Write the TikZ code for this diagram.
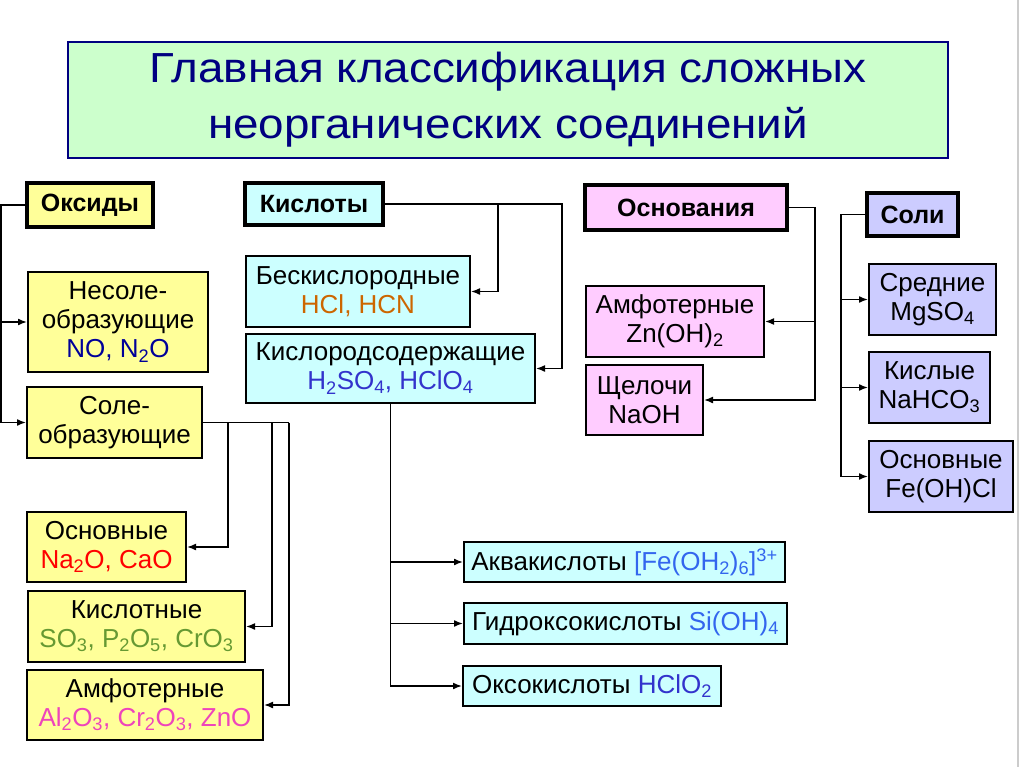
\documentclass[tikz,border=0pt]{standalone}
\usepackage{fontspec}
\setmainfont{Liberation Sans}
\newfontfamily\titlefont[FakeStretch=1.09]{Liberation Sans}
\usepackage{xcolor}
\usetikzlibrary{arrows.meta,positioning}
\definecolor{oxfill}{HTML}{FFFF99}
\definecolor{acfill}{HTML}{CCFFFF}
\definecolor{bafill}{HTML}{FFCCFF}
\definecolor{safill}{HTML}{CCCCFF}
\definecolor{tifill}{HTML}{CCFFCC}
\definecolor{tinavy}{HTML}{000080}
\definecolor{nocol}{HTML}{000099}
\definecolor{redcol}{HTML}{FF0000}
\definecolor{grncol}{HTML}{669933}
\definecolor{amfcol}{HTML}{EE44BB}
\definecolor{hclcol}{HTML}{CC6600}
\definecolor{sulcol}{HTML}{3333CC}
\definecolor{aqcol}{HTML}{3366EE}

\begin{document}
\begin{tikzpicture}[x=1pt, y=-1pt,
    box/.style={draw, align=center, inner sep=2pt, line width=2pt, font=\fontsize{26}{29}\selectfont},
    head/.style={box, line width=3.5pt, font=\fontsize{25}{30}\selectfont\bfseries},
    oxbox/.style={box, fill=oxfill}, acbox/.style={box, fill=acfill},
    babox/.style={box, fill=bafill}, sabox/.style={box, fill=safill},
    conn/.style={line width=1.6pt, -{Latex[length=9pt,width=7pt]}},
    link/.style={line width=1.6pt}
]
    \fill[white] (0,0) rectangle (1024,767); \useasboundingbox (0,0) rectangle (1024,767);
    \draw[black!20, line width=1.5pt] (1018,0) -- (1018,767);
    \node[draw=tinavy, line width=2pt, fill=tifill, text=tinavy, align=center, minimum width=880pt, minimum height=116pt,
        font=\titlefont\fontsize{42}{56}\selectfont] (title) at (508,100) {Главная классификация сложных\\неорганических соединений};

    \node[head, fill=oxfill, minimum width=126pt, minimum height=44pt] (oksidy) at (90,205) {Оксиды};
    \node[oxbox, minimum width=180pt, minimum height=100pt] (nesole) at (118,322) {Несоле-\\образующие\\\textcolor{nocol}{NO, N\textsubscript{2}O}};
    \node[oxbox, minimum width=175pt, minimum height=71pt] (sole) at (114.5,422.5) {Соле-\\образующие};
    \node[oxbox, minimum width=159pt, minimum height=70pt] (osnox) at (106.5,547) {Основные\\\textcolor{redcol}{Na\textsubscript{2}O, CaO}};
    \node[oxbox, minimum width=217pt, minimum height=71pt] (kislox) at (136.5,626.5) {Кислотные\\\textcolor{grncol}{SO\textsubscript{3}, P\textsubscript{2}O\textsubscript{5}, CrO\textsubscript{3}}};
    \node[oxbox, minimum width=236pt, minimum height=70pt] (amfox) at (145,705) {Амфотерные\\\textcolor{amfcol}{Al\textsubscript{2}O\textsubscript{3}, Cr\textsubscript{2}O\textsubscript{3}, ZnO}};

    \node[head, fill=acfill, minimum width=138pt, minimum height=42pt] (kisloty) at (314,204) {Кислоты};
    \node[acbox, minimum width=224pt, minimum height=71pt] (beskisl) at (358,291.5) {Бескислородные\\\textcolor{hclcol}{HCl, HCN}};
    \node[acbox, minimum width=289pt, minimum height=69pt] (kislsod) at (390.5,368.5) {Кислородсодержащие\\\textcolor{sulcol}{H\textsubscript{2}SO\textsubscript{4}, HClO\textsubscript{4}}};
    \node[acbox, minimum width=321pt, minimum height=40pt] (akva) at (624.5,562) {Аквакислоты \textcolor{aqcol}{[Fe(OH\textsubscript{2})\textsubscript{6}]\textsuperscript{3+}}};
    \node[acbox, minimum width=323pt, minimum height=41pt] (gidrokso) at (625.5,623.5) {Гидроксокислоты \textcolor{aqcol}{Si(OH)\textsubscript{4}}};
    \node[acbox, minimum width=258pt, minimum height=40pt] (okso) at (592,686) {Оксокислоты \textcolor{sulcol}{HClO\textsubscript{2}}};

    \node[head, fill=bafill, minimum width=202pt, minimum height=45pt] (osnovaniya) at (686,207.5) {Основания};
    \node[babox, minimum width=178pt, minimum height=71pt] (amfba) at (675,321.5) {Амфотерные\\Zn(OH)\textsubscript{2}};
    \node[babox, minimum width=117pt, minimum height=70pt] (shcheloch) at (644.5,400) {Щелочи\\NaOH};

    \node[head, fill=safill, minimum width=91pt, minimum height=43pt] (soli) at (912.5,214.5) {Соли};
    \foreach \nm/\yy/\ww/\txt in {sred/299.5/127/{Средние\\MgSO\textsubscript{4}}, kisls/387.5/121/{Кислые\\NaHCO\textsubscript{3}}, osns/476.5/144/{Основные\\Fe(OH)Cl}}
        \node[sabox, anchor=west, minimum width=\ww pt, minimum height=71pt] (\nm) at (868,\yy) {\txt};

    \draw[conn] (oksidy.west) -- ++(-24,0) |- (sole.west); \draw[conn] (oksidy.west) ++(-24,0) |- (nesole.west);
    \draw[link] (sole.east) -- ++(86,0);
    \foreach \dx/\nm in {25/osnox, 69/kislox, 86/amfox} \draw[conn] (sole.east) ++(\dx,0) |- (\nm.east);

    \draw[conn] (kisloty.east) -- ++(177,0) |- (kislsod.east); \draw[conn] (kisloty.east) ++(113,0) |- (beskisl.east);
    \foreach \nm in {akva, gidrokso, okso} \draw[conn] (kislsod.south) |- (\nm.west);

    \draw[conn] (osnovaniya.east) -- ++(26,0) |- (shcheloch.east); \draw[conn] (osnovaniya.east) ++(26,0) |- (amfba.east);

    \draw[conn] (soli.west) -- ++(-24,0) |- (osns.west);
    \foreach \nm in {sred, kisls} \draw[conn] (soli.west) ++(-24,0) |- (\nm.west);
\end{tikzpicture}
\end{document}
